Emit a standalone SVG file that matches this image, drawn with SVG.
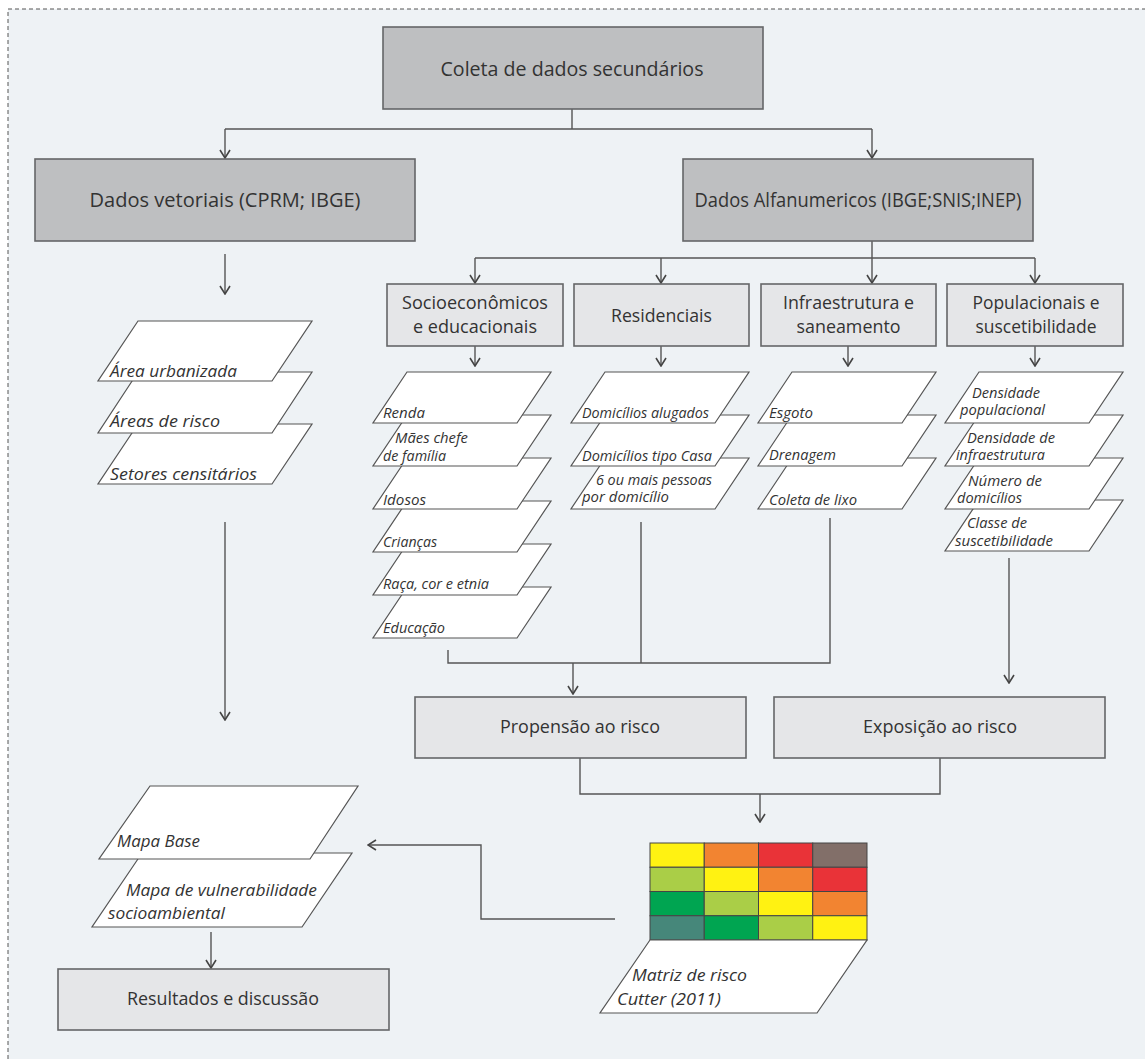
<svg xmlns="http://www.w3.org/2000/svg" width="1145" height="1059" viewBox="0 0 1145 1059">
<style>
.bg{fill:#EEF2F5}
.border{fill:none;stroke:#555;stroke-width:1;stroke-dasharray:4 3}
.dark{fill:#BEBFC1;stroke:#656668;stroke-width:1.6}
.light{fill:#E5E6E8;stroke:#656668;stroke-width:1.6}
.pg{fill:#FFFFFF;stroke:#555;stroke-width:1.2}
.t{font-family:"Open Sans","Liberation Sans",sans-serif;fill:#333;text-anchor:middle}
.it{font-family:"Open Sans","Liberation Sans",sans-serif;font-style:italic;fill:#333}
.s13{font-size:14.5px}
.s16{font-size:17px}
.line{fill:none;stroke:#555;stroke-width:1.4}
.arr{marker-end:url(#ah)}
.cell{stroke:#444;stroke-width:1}
</style>
<defs>
<marker id="ah" viewBox="0 0 10 12" refX="9" refY="6" markerWidth="10" markerHeight="12" markerUnits="userSpaceOnUse" orient="auto">
<path d="M1,1 L9,6 L1,11" fill="none" stroke="#444" stroke-width="1.6"/>
</marker>
</defs>
<rect x="8" y="9" width="1137" height="1050" class="bg"/>
<path d="M8,1059 V9 H1145" class="border"/>

<g id="connectors">
<path class="line" d="M572,109 V129 M225,129 H872"/>
<path class="line arr" d="M225,129 V158"/>
<path class="line arr" d="M872,129 V158"/>
<path class="line arr" d="M225,254 V294"/>
<path class="line" d="M872,241 V258 M475,258 H1035"/>
<path class="line arr" d="M475,258 V283"/>
<path class="line arr" d="M661,258 V283"/>
<path class="line arr" d="M872,258 V283"/>
<path class="line arr" d="M1035,258 V283"/>
<path class="line arr" d="M475,346 V366"/>
<path class="line arr" d="M661,346 V366"/>
<path class="line arr" d="M848,346 V366"/>
<path class="line arr" d="M1035,346 V366"/>
<path class="line arr" d="M225,522 V720"/>
<path class="line" d="M448,650 V663 H830 V518 M641,522 V663"/>
<path class="line arr" d="M573,663 V694"/>
<path class="line arr" d="M1009,558 V683"/>
<path class="line" d="M580,758 V794 H940 V758"/>
<path class="line arr" d="M760,794 V822"/>
<path class="line arr" d="M615,919 H481 V845 H368"/>
<path class="line arr" d="M211,932 V968"/>
</g>

<g id="coleta">
<rect x="383" y="27" width="380" height="82" class="dark"/>
<text x="572" y="76" class="t" font-size="20" textLength="263" lengthAdjust="spacingAndGlyphs">Coleta de dados secundários</text>
</g>
<g id="dados-vetoriais">
<rect x="35" y="159" width="380" height="82" class="dark"/>
<text x="225" y="207" class="t" font-size="19.5" textLength="271" lengthAdjust="spacingAndGlyphs">Dados vetoriais (CPRM; IBGE)</text>
</g>
<g id="dados-alfanumericos">
<rect x="683" y="159" width="350" height="82" class="dark"/>
<text x="858" y="207" class="t" font-size="19.5" textLength="327" lengthAdjust="spacingAndGlyphs">Dados Alfanumericos (IBGE;SNIS;INEP)</text>
</g>

<g id="socioeconomicos">
<rect x="387" y="284" width="176" height="62" class="light"/>
<text x="475" y="309" class="t" font-size="17.5" textLength="146" lengthAdjust="spacingAndGlyphs">Socioeconômicos</text>
<text x="475" y="333" class="t" font-size="17.5" textLength="124" lengthAdjust="spacingAndGlyphs">e educacionais</text>
</g>
<g id="residenciais">
<rect x="574" y="284" width="175" height="62" class="light"/>
<text x="661.5" y="322" class="t" font-size="17.5" textLength="101" lengthAdjust="spacingAndGlyphs">Residenciais</text>
</g>
<g id="infraestrutura">
<rect x="761" y="284" width="175" height="62" class="light"/>
<text x="848.5" y="309" class="t" font-size="17.5" textLength="131" lengthAdjust="spacingAndGlyphs">Infraestrutura e</text>
<text x="848.5" y="333" class="t" font-size="17.5" textLength="104" lengthAdjust="spacingAndGlyphs">saneamento</text>
</g>
<g id="populacionais">
<rect x="947" y="284" width="176" height="62" class="light"/>
<text x="1036" y="309" class="t" font-size="17.5" textLength="127" lengthAdjust="spacingAndGlyphs">Populacionais e</text>
<text x="1036" y="333" class="t" font-size="17.5" textLength="121" lengthAdjust="spacingAndGlyphs">suscetibilidade</text>
</g>

<g id="camadas-vetoriais">
<polygon class="pg" points="138,424 312,424 272,484 98,484"/>
<polygon class="pg" points="138,372 312,372 272,433 98,433"/>
<polygon class="pg" points="138,321 312,321 272,381 98,381"/>
<text x="110" y="377" class="it s16" textLength="127" lengthAdjust="spacingAndGlyphs">Área urbanizada</text>
<text x="110" y="427" class="it s16" textLength="110" lengthAdjust="spacingAndGlyphs">Áreas de risco</text>
<text x="110" y="480" class="it s16" textLength="147" lengthAdjust="spacingAndGlyphs">Setores censitários</text>
</g>

<g id="camadas-socioeconomicas">
<polygon class="pg" points="407,587 551,587 517,638 373,638"/>
<polygon class="pg" points="407,544 551,544 517,595 373,595"/>
<polygon class="pg" points="407,501 551,501 517,552 373,552"/>
<polygon class="pg" points="407,458 551,458 517,509 373,509"/>
<polygon class="pg" points="407,415 551,415 517,466 373,466"/>
<polygon class="pg" points="407,372 551,372 517,423 373,423"/>
<text x="383" y="418" class="it s13" textLength="42" lengthAdjust="spacingAndGlyphs">Renda</text>
<text x="395" y="443" class="it s13" textLength="73" lengthAdjust="spacingAndGlyphs">Mães chefe</text>
<text x="383" y="461" class="it s13" textLength="63" lengthAdjust="spacingAndGlyphs">de família</text>
<text x="383" y="505" class="it s13" textLength="43" lengthAdjust="spacingAndGlyphs">Idosos</text>
<text x="383" y="547" class="it s13" textLength="54" lengthAdjust="spacingAndGlyphs">Crianças</text>
<text x="383" y="589" class="it s13" textLength="106" lengthAdjust="spacingAndGlyphs">Raça, cor e etnia</text>
<text x="383" y="633" class="it s13" textLength="62" lengthAdjust="spacingAndGlyphs">Educação</text>
</g>

<g id="camadas-residenciais">
<polygon class="pg" points="605,458 749,458 715,509 571,509"/>
<polygon class="pg" points="605,415 749,415 715,466 571,466"/>
<polygon class="pg" points="605,372 749,372 715,423 571,423"/>
<text x="582" y="418" class="it s13" textLength="127" lengthAdjust="spacingAndGlyphs">Domicílios alugados</text>
<text x="582" y="461" class="it s13" textLength="130" lengthAdjust="spacingAndGlyphs">Domicílios tipo Casa</text>
<text x="596" y="485" class="it s13" textLength="116" lengthAdjust="spacingAndGlyphs">6 ou mais pessoas</text>
<text x="582" y="502" class="it s13" textLength="87" lengthAdjust="spacingAndGlyphs">por domicílio</text>
</g>

<g id="camadas-infraestrutura">
<polygon class="pg" points="792,458 936,458 902,509 758,509"/>
<polygon class="pg" points="792,415 936,415 902,466 758,466"/>
<polygon class="pg" points="792,372 936,372 902,423 758,423"/>
<text x="769" y="418" class="it s13" textLength="44" lengthAdjust="spacingAndGlyphs">Esgoto</text>
<text x="769" y="460" class="it s13" textLength="67" lengthAdjust="spacingAndGlyphs">Drenagem</text>
<text x="769" y="505" class="it s13" textLength="88" lengthAdjust="spacingAndGlyphs">Coleta de lixo</text>
</g>

<g id="camadas-populacionais">
<polygon class="pg" points="979,500 1123,500 1089,551 945,551"/>
<polygon class="pg" points="979,458 1123,458 1089,509 945,509"/>
<polygon class="pg" points="979,415 1123,415 1089,466 945,466"/>
<polygon class="pg" points="979,372 1123,372 1089,423 945,423"/>
<text x="972" y="398" class="it s13" textLength="68" lengthAdjust="spacingAndGlyphs">Densidade</text>
<text x="960" y="415" class="it s13" textLength="85" lengthAdjust="spacingAndGlyphs">populacional</text>
<text x="967" y="443" class="it s13" textLength="88" lengthAdjust="spacingAndGlyphs">Densidade de</text>
<text x="956" y="460" class="it s13" textLength="89" lengthAdjust="spacingAndGlyphs">infraestrutura</text>
<text x="968" y="486" class="it s13" textLength="74" lengthAdjust="spacingAndGlyphs">Número de</text>
<text x="957" y="503" class="it s13" textLength="65" lengthAdjust="spacingAndGlyphs">domicílios</text>
<text x="967" y="528" class="it s13" textLength="60" lengthAdjust="spacingAndGlyphs">Classe de</text>
<text x="955" y="546" class="it s13" textLength="98" lengthAdjust="spacingAndGlyphs">suscetibilidade</text>
</g>

<g id="propensao">
<rect x="415" y="697" width="331" height="61" class="light"/>
<text x="580" y="733" class="t" font-size="18" textLength="160" lengthAdjust="spacingAndGlyphs">Propensão ao risco</text>
</g>
<g id="exposicao">
<rect x="774" y="697" width="331" height="61" class="light"/>
<text x="940" y="733" class="t" font-size="18" textLength="154" lengthAdjust="spacingAndGlyphs">Exposição ao risco</text>
</g>

<g id="matriz">
<rect class="cell" x="650" y="843" width="54.25" height="24.25" fill="#FFF212"/>
<rect class="cell" x="704.25" y="843" width="54.25" height="24.25" fill="#F28431"/>
<rect class="cell" x="758.5" y="843" width="54.25" height="24.25" fill="#E93338"/>
<rect class="cell" x="812.75" y="843" width="54.25" height="24.25" fill="#826F69"/>
<rect class="cell" x="650" y="867.25" width="54.25" height="24.25" fill="#AACE47"/>
<rect class="cell" x="704.25" y="867.25" width="54.25" height="24.25" fill="#FFF212"/>
<rect class="cell" x="758.5" y="867.25" width="54.25" height="24.25" fill="#F28431"/>
<rect class="cell" x="812.75" y="867.25" width="54.25" height="24.25" fill="#E93338"/>
<rect class="cell" x="650" y="891.5" width="54.25" height="24.25" fill="#00A551"/>
<rect class="cell" x="704.25" y="891.5" width="54.25" height="24.25" fill="#AACE47"/>
<rect class="cell" x="758.5" y="891.5" width="54.25" height="24.25" fill="#FFF212"/>
<rect class="cell" x="812.75" y="891.5" width="54.25" height="24.25" fill="#F28431"/>
<rect class="cell" x="650" y="915.75" width="54.25" height="24.25" fill="#46877A"/>
<rect class="cell" x="704.25" y="915.75" width="54.25" height="24.25" fill="#00A551"/>
<rect class="cell" x="758.5" y="915.75" width="54.25" height="24.25" fill="#AACE47"/>
<rect class="cell" x="812.75" y="915.75" width="54.25" height="24.25" fill="#FFF212"/>
<polygon class="pg" points="650,940 867,940 817,1013 600,1013"/>
<text x="632" y="981" class="it" font-size="17" textLength="115" lengthAdjust="spacingAndGlyphs">Matriz de risco</text>
<text x="617" y="1005" class="it" font-size="17" textLength="104" lengthAdjust="spacingAndGlyphs">Cutter (2011)</text>
</g>

<g id="mapas">
<polygon class="pg" points="142,853 352,853 302,927 92,927"/>
<polygon class="pg" points="150,786 358,786 310,859 99,859"/>
<text x="117" y="847" class="it s16" textLength="83" lengthAdjust="spacingAndGlyphs">Mapa Base</text>
<text x="126" y="896" class="it" font-size="16" textLength="191" lengthAdjust="spacingAndGlyphs">Mapa de vulnerabilidade</text>
<text x="108" y="919" class="it" font-size="16" textLength="117" lengthAdjust="spacingAndGlyphs">socioambiental</text>
</g>

<g id="resultados">
<rect x="58" y="969" width="331" height="61" class="light"/>
<text x="223" y="1005" class="t" font-size="19" textLength="192" lengthAdjust="spacingAndGlyphs">Resultados e discussão</text>
</g>
</svg>
